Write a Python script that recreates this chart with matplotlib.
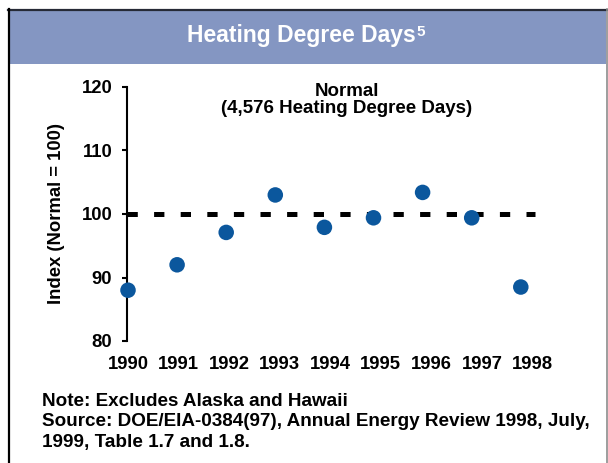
import matplotlib
matplotlib.use("Agg")
import matplotlib.pyplot as plt
from matplotlib.patches import Rectangle
from matplotlib.lines import Line2D
from matplotlib.text import Annotation
import numpy as np

# heating degree day index per year (normal = 100)
years = np.array([1990, 1991, 1992, 1993, 1994, 1995, 1996, 1997, 1998])
index_vals = np.array([88.0, 92.0, 97.1, 103.0, 97.9, 99.4, 103.4, 99.4, 88.5])
normal = 100
yticks = [80, 90, 100, 110, 120]
year_labels = [str(y) for y in years]

title = "Heating Degree Days"
normal_label = "Normal\n(4,576 Heating Degree Days)"
note_lines = ["Note: Excludes Alaska and Hawaii",
              "Source: DOE/EIA-0384(97), Annual Energy Review 1998, July,",
              "1999, Table 1.7 and 1.8."]

W, H = 608, 463
fig = plt.figure(figsize=(W / 100, H / 100), dpi=100)
plt.rcParams['font.family'] = ['Liberation Sans', 'DejaVu Sans']

def fx(px):
    return px / W

def fy(py):
    return (H - py) / H

# frame + title band
band = Rectangle((fx(10), fy(63.5)), fx(606) - fx(10), fy(10) - fy(63.5),
                 transform=fig.transFigure, facecolor='#8496c2', edgecolor='none')
fig.patches.append(band)
fig.lines.append(Line2D([fx(8), fx(607)], [fy(9.5), fy(9.5)], transform=fig.transFigure,
                        color='#262a36', lw=1.6))
fig.lines.append(Line2D([fx(9), fx(9)], [fy(9), 0], transform=fig.transFigure,
                        color='black', lw=1.6))
fig.lines.append(Line2D([fx(606.5), fx(606.5)], [fy(9), 0], transform=fig.transFigure,
                        color='#8c8c8c', lw=1.2))

t = fig.text(fx(301), fy(42), title, ha='center', va='baseline', color='white',
             fontsize=16.5, fontweight='bold')
sup = Annotation("5", xy=(1, 1), xycoords=t, xytext=(1, -1), textcoords='offset pixels',
                 ha='left', va='top', color='white', fontsize=11, fontweight='bold')
fig.add_artist(sup)

# main axes
ax_left, ax_right, ax_top, ax_bottom = 127, 545, 87, 341
ax = fig.add_axes([fx(ax_left), fy(ax_bottom), fx(ax_right) - fx(ax_left),
                   fy(ax_top) - fy(ax_bottom)])
ax.patch.set_alpha(0)

px_per_year = 49.1
x0 = years[0] - 1 / px_per_year
ax.set_xlim(x0, x0 + (ax_right - ax_left) / px_per_year)
ax.set_ylim(80, 120)

ax.axhline(normal, xmin=0, xmax=0.976, color='black', lw=3.6,
           dashes=(2.06, 3.26), dash_capstyle='butt', zorder=2)
ax.scatter(years, index_vals, s=125, color='#0b579d', edgecolors='none', zorder=3,
           clip_on=False)

for s in ['top', 'right', 'bottom']:
    ax.spines[s].set_visible(False)
ax.spines['left'].set_linewidth(1.5)

ax.set_yticks(yticks)
ax.tick_params(axis='y', direction='out', length=3.6, width=1.5, pad=7, labelsize=13.3)
# the year labels in the original sit slightly to the right of the points, drifting
label_x = years + 0.03 * (years - years[0])
ax.set_xticks(label_x)
ax.set_xticklabels(year_labels)
ax.tick_params(axis='x', length=0, pad=11, labelsize=13.3)
for lab in ax.get_xticklabels() + ax.get_yticklabels():
    lab.set_fontweight('bold')

ax.set_ylabel("Index (Normal = 100)", fontsize=13.3, fontweight='bold', labelpad=12)

ax.text(1994.46, 120.7, normal_label, ha='center', va='top', fontsize=13.5,
        fontweight='bold', linespacing=1.05, clip_on=False)

for i, line in enumerate(note_lines):
    fig.text(fx(42.5), fy(406.5 + 20 * i), line, ha='left', va='baseline',
             fontsize=13.6, fontweight='bold')

fig.savefig("out.png", dpi=100)
